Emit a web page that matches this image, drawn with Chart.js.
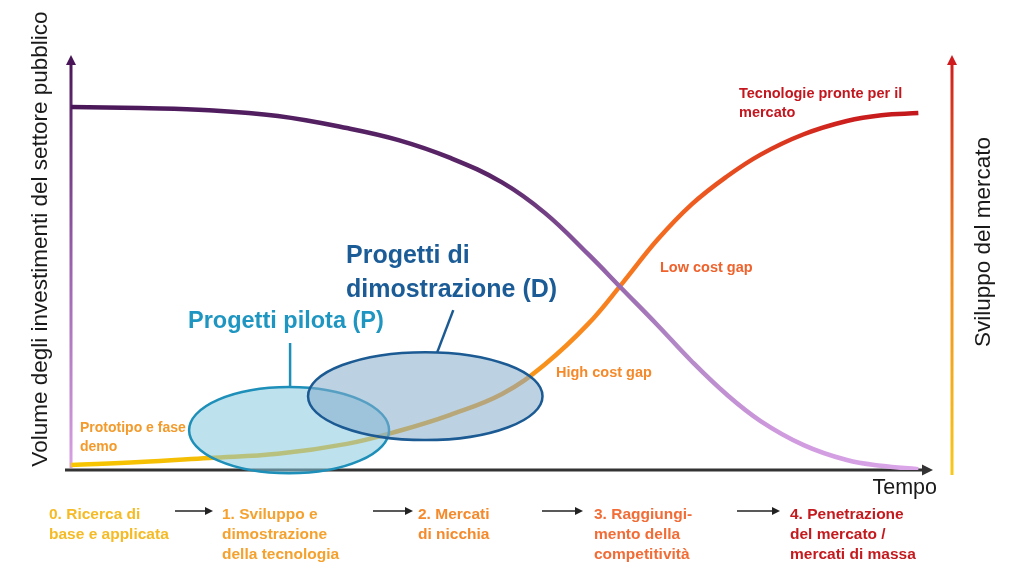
<!DOCTYPE html>
<html>
<head>
<meta charset="utf-8">
<title>Investimenti pubblici e sviluppo del mercato</title>
<script src="https://cdn.jsdelivr.net/npm/chart.js@4.4.1/dist/chart.umd.min.js"></script>
<style>
  html, body { margin: 0; padding: 0; background: #fff; }
  #chart { display: block; }
</style>
</head>
<body>
<canvas id="chart" width="1024" height="576"></canvas>
<script>
// tempo (asse x, 0-100) e le due curve
const tempo = [0, 8, 16, 24, 32, 38, 44, 50, 55, 60, 64, 68, 72, 76, 80, 85, 90, 94, 98.3];
const investimentiPubblici = [87.5, 87.2, 86.7, 85.3, 82.4, 79.5, 75.2, 69.3, 61.9, 52.0, 43.5, 35.0, 26.2, 18.3, 11.8, 6.0, 2.4, 1.0, 0.2];
const sviluppoMercato = [1.2, 1.9, 2.9, 3.9, 6.3, 9.4, 13.3, 18.3, 25.5, 35.2, 45.1, 55.4, 64.0, 70.6, 76.0, 80.9, 84.1, 85.5, 86.0];

// fasi sotto l'asse del tempo
const fasi = [
  ["0. Ricerca di", "base e applicata"],
  ["1. Sviluppo e", "dimostrazione", "della tecnologia"],
  ["2. Mercati", "di nicchia"],
  ["3. Raggiungi-", "mento della", "competitività"],
  ["4. Penetrazione", "del mercato /", "mercati di massa"]
];

// progetti (ellissi) in unità del grafico: centro x, centro y, raggio x, raggio y
const progettiPilota = [25.3, 9.6, 11.6, 10.4];
const progettiDimostrazione = [41.1, 17.8, 13.6, 10.6];

const FONT = "'Liberation Sans', Arial, sans-serif";

function makeGradient(ctx, area, stops) {
  const g = ctx.createLinearGradient(area.left, 0, area.right, 0);
  stops.forEach(s => g.addColorStop(s[0], s[1]));
  return g;
}

const purpleStops = [[0, "#4a1858"], [0.5, "#5a2668"], [0.6, "#8c5aa2"], [0.7, "#b287c6"], [0.82, "#cf9ade"], [1, "#dda8ea"]];
const orangeStops = [[0, "#f7c600"], [0.3, "#f2b40c"], [0.5, "#f69a18"], [0.6, "#f9881e"], [0.7, "#f26420"], [0.8, "#e0401f"], [0.9, "#cc1f1e"], [1, "#c0161c"]];

function arrowHead(ctx, x, y, dir, size) {
  ctx.save();
  ctx.translate(x, y);
  ctx.rotate(dir);
  ctx.beginPath();
  ctx.moveTo(0, 0);
  ctx.lineTo(-size, -size * 0.5);
  ctx.lineTo(-size, size * 0.5);
  ctx.closePath();
  ctx.fill();
  ctx.restore();
}

function text(ctx, str, x, y, font, color, align) {
  ctx.font = font;
  ctx.fillStyle = color;
  ctx.textAlign = align || "left";
  ctx.textBaseline = "middle";
  ctx.fillText(str, x, y);
}

const diagramPlugin = {
  id: "diagram",
  beforeDatasetsDraw(chart) {
    const { ctx, chartArea: a } = chart;
    ctx.save();
    // asse sinistro (investimenti)
    let g = ctx.createLinearGradient(0, a.bottom, 0, a.top);
    g.addColorStop(0, "#d9a2e4");
    g.addColorStop(0.5, "#9a62ad");
    g.addColorStop(1, "#4a1458");
    ctx.strokeStyle = g;
    ctx.lineWidth = 3;
    ctx.beginPath();
    ctx.moveTo(a.left, a.bottom - 2);
    ctx.lineTo(a.left, a.top + 8);
    ctx.stroke();
    ctx.fillStyle = "#4a1458";
    arrowHead(ctx, a.left, a.top, -Math.PI / 2, 10);

    // asse destro (sviluppo del mercato)
    const rx = 952;
    g = ctx.createLinearGradient(0, a.bottom + 5, 0, a.top);
    g.addColorStop(0, "#f7c91a");
    g.addColorStop(0.5, "#f08a22");
    g.addColorStop(1, "#cf1b1d");
    ctx.strokeStyle = g;
    ctx.beginPath();
    ctx.moveTo(rx, a.bottom + 5);
    ctx.lineTo(rx, a.top + 8);
    ctx.stroke();
    ctx.fillStyle = "#cf1b1d";
    arrowHead(ctx, rx, a.top, -Math.PI / 2, 10);

    // asse del tempo
    ctx.strokeStyle = "#333";
    ctx.lineWidth = 3;
    ctx.beginPath();
    ctx.moveTo(a.left - 6, a.bottom);
    ctx.lineTo(a.right - 8, a.bottom);
    ctx.stroke();
    ctx.fillStyle = "#333";
    arrowHead(ctx, a.right, a.bottom, 0, 11);
    ctx.restore();
  },
  afterDatasetsDraw(chart) {
    const { ctx, scales: { x, y } } = chart;
    ctx.save();
    const ell = (e, fill, stroke) => {
      const cx = x.getPixelForValue(e[0]);
      const cy = y.getPixelForValue(e[1]);
      const rw = x.getPixelForValue(e[0] + e[2]) - cx;
      const rh = cy - y.getPixelForValue(e[1] + e[3]);
      ctx.beginPath();
      ctx.ellipse(cx, cy, rw, rh, 0, 0, Math.PI * 2);
      ctx.fillStyle = fill;
      ctx.fill();
      ctx.lineWidth = 2.5;
      ctx.strokeStyle = stroke;
      ctx.stroke();
      return { cx, cy, rw, rh };
    };
    const p = ell(progettiPilota, "rgba(135,200,222,0.55)", "#1e8fb8");
    const d = ell(progettiDimostrazione, "rgba(133,173,204,0.55)", "#1b5a93");

    // linee di richiamo
    ctx.lineWidth = 2.5;
    ctx.strokeStyle = "#1e8fb8";
    ctx.beginPath();
    ctx.moveTo(p.cx + 1, p.cy - p.rh);
    ctx.lineTo(p.cx + 1, p.cy - p.rh - 44);
    ctx.stroke();
    ctx.strokeStyle = "#1b5a93";
    ctx.beginPath();
    ctx.moveTo(d.cx + 12, d.cy - d.rh);
    ctx.lineTo(d.cx + 28, d.cy - d.rh - 42);
    ctx.stroke();

    text(ctx, "Progetti pilota (P)", 188, 322, "bold 23.5px " + FONT, "#1f96c1");
    text(ctx, "Progetti di", 346, 256, "bold 25px " + FONT, "#1b5c97");
    text(ctx, "dimostrazione (D)", 346, 290, "bold 25px " + FONT, "#1b5c97");

    // etichette delle curve
    const small = "bold 14.5px " + FONT;
    text(ctx, "Prototipo e fase", 80, 428, "bold 14px " + FONT, "#f39a2b");
    text(ctx, "demo", 80, 447, "bold 14px " + FONT, "#f39a2b");
    text(ctx, "High cost gap", 556, 373, small, "#f5892a");
    text(ctx, "Low cost gap", 660, 268, small, "#f0622c");
    text(ctx, "Tecnologie pronte per il", 739, 94, small, "#c3161e");
    text(ctx, "mercato", 739, 113, small, "#c3161e");

    // titoli degli assi
    text(ctx, "Tempo", 937, 488, "21.5px " + FONT, "#1a1a1a", "right");
    ctx.save();
    ctx.translate(41, 239);
    ctx.rotate(-Math.PI / 2);
    text(ctx, "Volume degli investimenti del settore pubblico", 0, 0, "22.5px " + FONT, "#1a1a1a", "center");
    ctx.restore();
    ctx.save();
    ctx.translate(984, 242);
    ctx.rotate(-Math.PI / 2);
    text(ctx, "Sviluppo del mercato", 0, 0, "22.5px " + FONT, "#1a1a1a", "center");
    ctx.restore();

    // fasi e frecce
    const faseX = [49, 222, 418, 594, 790];
    const faseCol = ["#f6bb24", "#f5a12e", "#f58a2c", "#f26c36", "#c41a1e"];
    fasi.forEach((righe, i) => {
      righe.forEach((r, j) => text(ctx, r, faseX[i], 515 + j * 20, "bold 15.5px " + FONT, faseCol[i]));
    });
    const frecce = [[175, 213], [373, 413], [542, 583], [737, 780]];
    ctx.strokeStyle = "#222";
    ctx.fillStyle = "#222";
    ctx.lineWidth = 1.5;
    frecce.forEach(f => {
      ctx.beginPath();
      ctx.moveTo(f[0], 511);
      ctx.lineTo(f[1] - 6, 511);
      ctx.stroke();
      arrowHead(ctx, f[1], 511, 0, 8);
    });
    ctx.restore();
  }
};

new Chart(document.getElementById("chart"), {
  type: "line",
  data: {
    datasets: [
      {
        label: "Volume degli investimenti del settore pubblico",
        data: tempo.map((t, i) => ({ x: t, y: investimentiPubblici[i] })),
        borderWidth: 4.5,
        borderColor: c => c.chart.chartArea ? makeGradient(c.chart.ctx, c.chart.chartArea, purpleStops) : "#5a2668",
        pointRadius: 0,
        tension: 0.4,
        fill: false
      },
      {
        label: "Sviluppo del mercato",
        data: tempo.map((t, i) => ({ x: t, y: sviluppoMercato[i] })),
        borderWidth: 4.5,
        borderColor: c => c.chart.chartArea ? makeGradient(c.chart.ctx, c.chart.chartArea, orangeStops) : "#f98a1e",
        pointRadius: 0,
        tension: 0.4,
        fill: false
      }
    ]
  },
  options: {
    responsive: false,
    animation: false,
    layout: { padding: { left: 71, right: 91, top: 55, bottom: 106 } },
    plugins: { legend: { display: false }, tooltip: { enabled: false } },
    scales: {
      x: { type: "linear", min: 0, max: 100, display: false },
      y: { min: 0, max: 100, display: false }
    }
  },
  plugins: [diagramPlugin]
});
</script>
</body>
</html>
